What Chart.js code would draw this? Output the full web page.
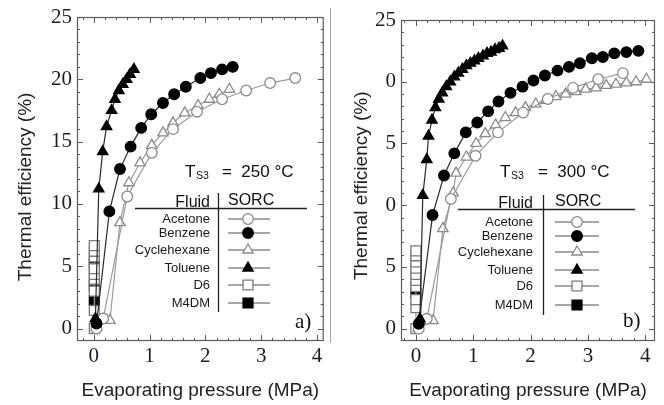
<!DOCTYPE html>
<html><head><meta charset="utf-8">
<script src="https://cdn.jsdelivr.net/npm/chart.js@4.4.1/dist/chart.umd.min.js"></script>
<style>
html,body{margin:0;padding:0;background:#fff;}
#wrap{position:relative;width:664px;height:405px;overflow:hidden;background:#fff;}
.panel{position:absolute;top:0;width:332px;height:405px;}
#pa{left:0;} #pb{left:332px;}
#sep{position:absolute;left:330px;top:8px;width:1px;height:335px;background:#a0a0a0;}
</style></head><body>
<div id="wrap">
<div class="panel" id="pa"><canvas id="ca" width="332" height="405"></canvas></div>
<div class="panel" id="pb"><canvas id="cb" width="332" height="405"></canvas></div>
<div id="sep"></div>
</div>
<script>
// ---------- data ----------
const fluids = ['Acetone','Benzene','Cyclehexane','Toluene','D6','M4DM'];
const xTickValues = [0,1,2,3,4];
const xTickLabels = ['0','1','2','3','4'];
const yTickValues = [0,5,10,15,20,25];
const yTickLabelsA = ['0','5','10','15','20','25'];
const yTickLabelsB = ['0','5','0','5','0','25'];
const xTitle = 'Evaporating pressure (MPa)';
const yTitle = 'Thermal efficiency (%)';
const tempLabelA = '=  250 °C';
const tempLabelB = '=  300 °C';
const panelTagA = 'a)';
const panelTagB = 'b)';

// panel a) T_S3 = 250 °C  [pressure MPa, efficiency %]
const acetoneA = [[0.05,0.0],[0.17,0.8],[0.60,10.6],[1.04,14.1],[1.42,16.0],[1.85,17.4],[2.30,18.4],[2.73,19.1],[3.16,19.7],[3.61,20.1]];
const benzeneA = [[0.05,0.4],[0.28,9.4],[0.47,12.8],[0.66,14.6],[0.85,16.1],[1.03,17.2],[1.24,18.1],[1.44,18.8],[1.65,19.4],[1.91,20.1],[2.10,20.5],[2.30,20.8],[2.49,21.0]];
const cyclohexaneA = [[0.05,0.1],[0.29,0.65],[0.47,8.5],[0.63,11.7],[0.83,13.3],[1.04,14.7],[1.24,15.7],[1.42,16.5],[1.63,17.3],[1.87,17.9],[2.07,18.4],[2.25,18.8],[2.43,19.2]];
const tolueneA = [[0.03,0.8],[0.09,11.2],[0.16,14.2],[0.23,16.2],[0.32,17.5],[0.38,18.4],[0.45,19.1],[0.52,19.6],[0.59,20.0],[0.65,20.4],[0.72,20.8]];
const d6A = [[0.01,0.0],[0.01,1.45],[0.01,3.0],[0.01,3.95],[0.01,4.35],[0.01,4.8],[0.01,5.75],[0.01,6.2],[0.01,6.65]];
const m4dmA = [[0.01,2.25],[0.01,3.45],[0.01,5.25]];

// panel b) T_S3 = 300 °C
const acetoneB = [[0.05,0.0],[0.19,0.8],[0.61,10.5],[1.04,14.0],[1.43,15.9],[1.87,17.5],[2.30,18.6],[2.74,19.5],[3.18,20.2],[3.61,20.7]];
const benzeneB = [[0.05,0.4],[0.29,9.2],[0.49,12.4],[0.67,14.2],[0.87,15.9],[1.07,16.7],[1.26,17.6],[1.44,18.4],[1.65,19.1],[1.86,19.6],[2.05,20.1],[2.25,20.5],[2.47,20.9],[2.67,21.2],[2.86,21.5],[3.07,21.9],[3.26,22.0],[3.46,22.3],[3.67,22.4],[3.88,22.5]];
const cyclohexaneB = [[0.04,0.0],[0.30,0.65],[0.47,8.1],[0.65,11.0],[0.70,12.6],[0.88,13.9],[1.05,15.0],[1.21,15.8],[1.39,16.5],[1.56,17.1],[1.74,17.5],[1.91,17.9],[2.09,18.2],[2.26,18.5],[2.44,18.8],[2.61,19.0],[2.79,19.2],[2.96,19.4],[3.14,19.5],[3.32,19.7],[3.49,19.8],[3.67,19.9],[3.84,20.0],[4.02,20.2]];
const tolueneB = [[0.07,0.8],[0.12,10.8],[0.19,13.7],[0.22,15.6],[0.28,16.9],[0.34,17.9],[0.40,18.6],[0.46,19.1],[0.53,19.6],[0.60,20.0],[0.67,20.4],[0.74,20.7],[0.81,21.0],[0.88,21.3],[0.95,21.5],[1.02,21.7],[1.09,21.9],[1.17,22.1],[1.24,22.3],[1.31,22.4],[1.38,22.6],[1.45,22.7],[1.51,22.9]];
const d6B = [[0.0,0.0],[0.0,1.7],[0.0,2.35],[0.0,3.4],[0.0,3.9],[0.0,4.4],[0.0,4.9],[0.0,5.4],[0.0,5.9],[0.0,6.3]];
const m4dmB = [[0.0,2.85]];

// ---------- styles ----------
const seriesStyles = {
  Acetone:     {pointStyle:'circle',   radius:5.3, fill:'#ffffff', border:'#8a8a8a', line:'#9a9a9a'},
  Benzene:     {pointStyle:'circle',   radius:5.3, fill:'#000000', border:'#000000', line:'#2a2a2a'},
  Cyclehexane: {pointStyle:'triangle', radius:6,   fill:'#ffffff', border:'#8a8a8a', line:'#9a9a9a'},
  Toluene:     {pointStyle:'triangle', radius:6,   fill:'#000000', border:'#000000', line:'#2a2a2a'},
  D6:          {pointStyle:'rect',     radius:7,   fill:'#ffffff', border:'#7a7a7a', line:'#9a9a9a'},
  M4DM:        {pointStyle:'rect',     radius:7,   fill:'#000000', border:'#000000', line:'#2a2a2a'}
};
const drawOrder = {Acetone:3, Benzene:2, Cyclehexane:4, Toluene:1, D6:5, M4DM:6};

function buildDatasets(list){
  return fluids.map((name,i)=>{
    const s = seriesStyles[name];
    return {
      label:name,
      data:list[i].map(p=>({x:p[0],y:p[1]})),
      showLine:true, tension:0, clip:false,
      borderColor:s.line, borderWidth:1.2,
      backgroundColor:s.fill,
      pointBackgroundColor:s.fill, pointBorderColor:s.border, pointBorderWidth:1.3,
      pointStyle:s.pointStyle, pointRadius:s.radius, pointHoverRadius:s.radius,
      order:drawOrder[name]
    };
  });
}

const framePlugin = {
  id:'frameTicks',
  beforeDatasetsDraw(chart){
    const {ctx, chartArea:ca, scales:{x,y}} = chart;
    ctx.save();
    ctx.strokeStyle = '#5a5a5a';
    ctx.lineWidth = 1.2;
    ctx.strokeRect(ca.left+0.5, ca.top+0.5, ca.right-ca.left-1, ca.bottom-ca.top-1);
    ctx.lineWidth = 1;
    ctx.beginPath();
    for (let k=-2; k<=22; k++){
      const v = k*0.2;
      const px = Math.round(x.getPixelForValue(v))+0.5;
      if (px <= ca.left+1 || px >= ca.right-1) continue;
      const L = (k%5===0) ? 6 : 3;
      ctx.moveTo(px, ca.bottom); ctx.lineTo(px, ca.bottom-L);
      ctx.moveTo(px, ca.top); ctx.lineTo(px, ca.top+L);
    }
    for (let v=-1; v<=25; v++){
      const py = Math.round(y.getPixelForValue(v))+0.5;
      if (py <= ca.top+1 || py >= ca.bottom-1) continue;
      const L = (v%5===0) ? 6 : 3;
      ctx.moveTo(ca.left, py); ctx.lineTo(ca.left+L, py);
      ctx.moveTo(ca.right, py); ctx.lineTo(ca.right-L, py);
    }
    ctx.stroke();
    ctx.restore();
  }
};

function annotationPlugin(p){
  return {
    id:'annot',
    afterDraw(chart){
      const ctx = chart.ctx;
      const L = p.legend;
      ctx.save();
      // T_S3 label
      ctx.fillStyle = '#111111';
      ctx.textBaseline = 'alphabetic';
      ctx.textAlign = 'left';
      ctx.font = '17px "Liberation Sans"';
      ctx.fillText('T', p.temp.tx, p.temp.base);
      ctx.font = '10.5px "Liberation Sans"';
      ctx.fillText('S3', p.temp.sx, p.temp.base+2);
      ctx.font = '17px "Liberation Sans"';
      ctx.fillText(p.temp.text, p.temp.ex, p.temp.base);
      // legend table
      ctx.strokeStyle = '#222'; ctx.lineWidth = 1.3;
      ctx.beginPath();
      ctx.moveTo(L.hx1, L.hy+0.5); ctx.lineTo(L.hx2, L.hy+0.5);
      ctx.moveTo(L.vx+0.5, L.vy1); ctx.lineTo(L.vx+0.5, L.vy2);
      ctx.stroke();
      ctx.font = '16px "Liberation Sans"';
      ctx.fillStyle = '#111';
      ctx.textAlign = 'right';
      ctx.fillText('Fluid', L.textRight, L.fluidBase);
      ctx.textAlign = 'left';
      ctx.fillText('SORC', L.sorcLeft, L.sorcBase);
      ctx.font = '13px "Liberation Sans"';
      fluids.forEach((name,i)=>{
        const yy = L.rows[i];
        const s = seriesStyles[name];
        ctx.fillStyle = '#1a1a1a';
        ctx.textAlign = 'right'; ctx.textBaseline = 'middle';
        ctx.fillText(name, L.textRight, yy);
        ctx.strokeStyle = '#8a8a8a'; ctx.lineWidth = 1.5;
        ctx.beginPath(); ctx.moveTo(L.lx1, yy); ctx.lineTo(L.lx2, yy); ctx.stroke();
        ctx.fillStyle = s.fill; ctx.strokeStyle = s.border; ctx.lineWidth = 1.3;
        Chart.helpers.drawPoint(ctx, {pointStyle:s.pointStyle, radius:s.radius, borderWidth:1.3, rotation:0}, L.mx, yy);
      });
      // panel tag
      ctx.fillStyle = '#111';
      ctx.textAlign = 'left'; ctx.textBaseline = 'alphabetic';
      ctx.font = '21px "Liberation Serif"';
      ctx.fillText(p.tag.text, p.tag.x, p.tag.base);
      ctx.restore();
    }
  };
}

function makeChart(id, list, p){
  const tickFont = {family:'Liberation Serif', size:21};
  const titleFont = {family:'Liberation Sans', size:19};
  return new Chart(document.getElementById(id), {
    type:'scatter',
    data:{datasets:buildDatasets(list)},
    options:{
      responsive:false, animation:false, devicePixelRatio:1,
      layout:{padding:{top:p.padTop, right:p.padRight, left:0, bottom:0}},
      plugins:{legend:{display:false}, tooltip:{enabled:false}},
      scales:{
        x:{
          type:'linear', position:'bottom', min:p.xMin, max:p.xMax,
          grid:{display:false, drawTicks:false}, border:{display:false},
          afterBuildTicks:(s)=>{ s.ticks = xTickValues.map(v=>({value:v})); },
          ticks:{padding:3, font:tickFont, color:'#1c1c2a', autoSkip:false, maxRotation:0,
                 callback:(v,i)=>xTickLabels[i]},
          title:{display:true, text:xTitle, font:titleFont, color:'#222', padding:{top:0,bottom:3}},
          afterFit:(s)=>{ s.height = 64; s.paddingLeft = 0; s.paddingRight = 0; }
        },
        y:{
          type:'linear', position:'left', min:-1, max:25,
          grid:{display:false, drawTicks:false}, border:{display:false},
          afterBuildTicks:(s)=>{ s.ticks = yTickValues.map(v=>({value:v})); },
          ticks:{padding:5, font:tickFont, color:'#1c1c2a', autoSkip:false,
                 callback:(v,i)=>p.yLabels[i]},
          title:{display:true, text:yTitle + p.yTitleTail, font:titleFont, color:'#222', padding:{top:p.yTitlePad,bottom:0}},
          afterFit:(s)=>{ s.width = p.yWidth; s.paddingTop = 0; s.paddingBottom = 0; }
        }
      }
    },
    plugins:[framePlugin, annotationPlugin(p)]
  });
}

makeChart('ca', [acetoneA, benzeneA, cyclohexaneA, tolueneA, d6A, m4dmA], {
  yLabels:yTickLabelsA, xMin:-0.3, xMax:4.12, padTop:17, padRight:8, yWidth:77, yTitlePad:14,
  yTitleTail:'\u00A0\u00A0\u00A0',
  temp:{tx:185, sx:196, ex:222, base:177, text:tempLabelA},
  legend:{hx1:135, hx2:307, hy:208, vx:218, vy1:193, vy2:312, textRight:210, fluidBase:207, sorcLeft:228, sorcBase:205,
          rows:[219,233,250,268,285,303], lx1:228, lx2:270, mx:248},
  tag:{text:panelTagA, x:295, base:328}
});
makeChart('cb', [acetoneB, benzeneB, cyclohexaneB, tolueneB, d6B, m4dmB], {
  yLabels:yTickLabelsB, xMin:-0.26, xMax:4.17, padTop:20, padRight:9, yWidth:69, yTitlePad:18,
  yTitleTail:'\u00A0\u00A0',
  temp:{tx:168, sx:179, ex:206, base:177, text:tempLabelB},
  legend:{hx1:126, hx2:303, hy:209, vx:211, vy1:195, vy2:315, textRight:201, fluidBase:208, sorcLeft:223, sorcBase:206,
          rows:[222,236,252,270,286,305], lx1:223, lx2:267, mx:245},
  tag:{text:panelTagB, x:291, base:327}
});
</script>
</body></html>
